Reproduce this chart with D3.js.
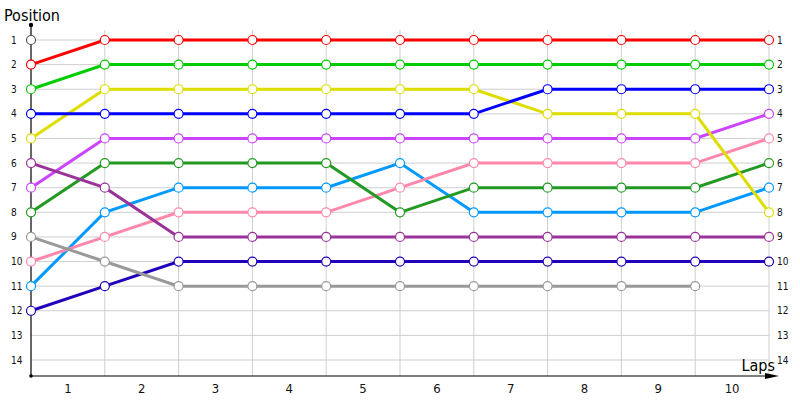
<!DOCTYPE html>
<html>
<head>
<meta charset="utf-8">
<script src="https://cdn.jsdelivr.net/npm/d3@7"></script>
<style>
  body { margin: 0; background: #fff; }
  svg { display: block; font-family: Tahoma, "DejaVu Sans Condensed", "Liberation Sans", sans-serif; }
  .grid line { stroke: #cfcfcf; stroke-width: 1; }
  .tick-lbl { font-size: 10px; fill: #111; }
  .lap-lbl { font-size: 13px; fill: #111; }
  .axis-title { font-size: 16px; fill: #000; }
</style>
</head>
<body>
<div class="race-chart"></div>
<script>
"use strict";

// laps (0 = grid), positions
var laps = [0, 1, 2, 3, 4, 5, 6, 7, 8, 9, 10];
var lapLabels = ["1", "2", "3", "4", "5", "6", "7", "8", "9", "10"];
var positions = [1, 2, 3, 4, 5, 6, 7, 8, 9, 10, 11, 12, 13, 14];

// one array per driver, listed in starting order
var retired = [1];
var red     = [2, 1, 1, 1, 1, 1, 1, 1, 1, 1, 1];
var green   = [3, 2, 2, 2, 2, 2, 2, 2, 2, 2, 2];
var blue    = [4, 4, 4, 4, 4, 4, 4, 3, 3, 3, 3];
var yellow  = [5, 3, 3, 3, 3, 3, 3, 4, 4, 4, 8];
var plum    = [6, 7, 9, 9, 9, 9, 9, 9, 9, 9, 9];
var violet  = [7, 5, 5, 5, 5, 5, 5, 5, 5, 5, 4];
var forest  = [8, 6, 6, 6, 6, 8, 7, 7, 7, 7, 6];
var grey    = [9, 10, 11, 11, 11, 11, 11, 11, 11, 11];
var pink    = [10, 9, 8, 8, 8, 7, 6, 6, 6, 6, 5];
var sky     = [11, 8, 7, 7, 7, 6, 8, 8, 8, 8, 7];
var navy    = [12, 11, 10, 10, 10, 10, 10, 10, 10, 10, 10];

var drivers = [
  {values: retired, color: "#555555"},
  {values: red,     color: "#ff0000"},
  {values: green,   color: "#00cc00"},
  {values: blue,    color: "#0000ff"},
  {values: yellow,  color: "#dddd00"},
  {values: plum,    color: "#993399"},
  {values: violet,  color: "#cc44ff"},
  {values: forest,  color: "#229922"},
  {values: grey,    color: "#999999"},
  {values: pink,    color: "#ff88aa"},
  {values: sky,     color: "#0099ff"},
  {values: navy,    color: "#2200bb"}
];

var W = 800, H = 400;
var svg = d3.select(".race-chart").append("svg")
  .attr("width", W).attr("height", H);

var x = d3.scaleLinear().domain([0, 10]).range([31, 769]);
var y = d3.scaleLinear().domain([1, 14]).range([40, 360]);
var axisY = 376;

//grid
var grid = svg.append("g").attr("class", "grid");
grid.selectAll(".hline").data(positions).enter()
  .append("line").attr("class", "hline")
  .attr("x1", x(0)).attr("x2", x(10))
  .attr("y1", function(d){ return y(d); })
  .attr("y2", function(d){ return y(d); });
grid.selectAll(".vline").data(laps.slice(1)).enter()
  .append("line").attr("class", "vline")
  .attr("x1", function(d){ return x(d); })
  .attr("x2", function(d){ return x(d); })
  .attr("y1", 30).attr("y2", axisY);

//axes
svg.append("line")
  .attr("x1", x(0)).attr("x2", x(0))
  .attr("y1", 25).attr("y2", axisY)
  .style("stroke", "#000").style("stroke-width", 1.2);
svg.append("circle").attr("cx", x(0)).attr("cy", 25).attr("r", 2.2).style("fill", "#000");
svg.append("circle").attr("cx", x(0)).attr("cy", axisY).attr("r", 1.8).style("fill", "#000");
svg.append("line")
  .attr("x1", x(0)).attr("x2", 770)
  .attr("y1", axisY).attr("y2", axisY)
  .style("stroke", "#000").style("stroke-width", 1.2);
svg.append("path")
  .attr("d", "M765," + (axisY - 3) + " L779," + axisY + " L765," + (axisY + 3) + " Z")
  .style("fill", "#000");

//tick labels
svg.selectAll(".left-lbl").data(positions).enter()
  .append("text").attr("class", "tick-lbl left-lbl")
  .attr("x", 11).attr("y", function(d){ return y(d); })
  .attr("dy", "0.35em")
  .text(function(d){ return d; });
svg.selectAll(".right-lbl").data(positions).enter()
  .append("text").attr("class", "tick-lbl right-lbl")
  .attr("x", 777).attr("y", function(d){ return y(d); })
  .attr("dy", "0.35em")
  .text(function(d){ return d; });
svg.selectAll(".lap-lbl").data(lapLabels).enter()
  .append("text").attr("class", "lap-lbl")
  .attr("x", function(d, i){ return (x(i) + x(i + 1)) / 2; })
  .attr("y", 393)
  .style("text-anchor", "middle")
  .text(function(d){ return d; });

svg.append("text").attr("class", "axis-title")
  .attr("x", 4).attr("y", 21).text("Position");
svg.append("text").attr("class", "axis-title")
  .attr("x", 775).attr("y", 371)
  .style("text-anchor", "end").text("Laps");

//lines, drawn back to front
var line = d3.line()
  .x(function(d, i){ return x(laps[i]); })
  .y(function(d){ return y(d); });

var lineGroup = svg.append("g");
drivers.slice().reverse().forEach(function(drv){
  if (drv.values.length < 2) return;
  lineGroup.append("path")
    .attr("d", line(drv.values))
    .style("fill", "none")
    .style("stroke", drv.color)
    .style("stroke-width", 3);
});

//points
var pointGroup = svg.append("g");
drivers.forEach(function(drv){
  pointGroup.selectAll(null).data(drv.values).enter()
    .append("circle")
    .attr("cx", function(d, i){ return x(laps[i]); })
    .attr("cy", function(d){ return y(d); })
    .attr("r", 4.5)
    .style("fill", "#fff")
    .style("stroke", drv.color)
    .style("stroke-width", 1.2);
});
</script>
</body>
</html>
